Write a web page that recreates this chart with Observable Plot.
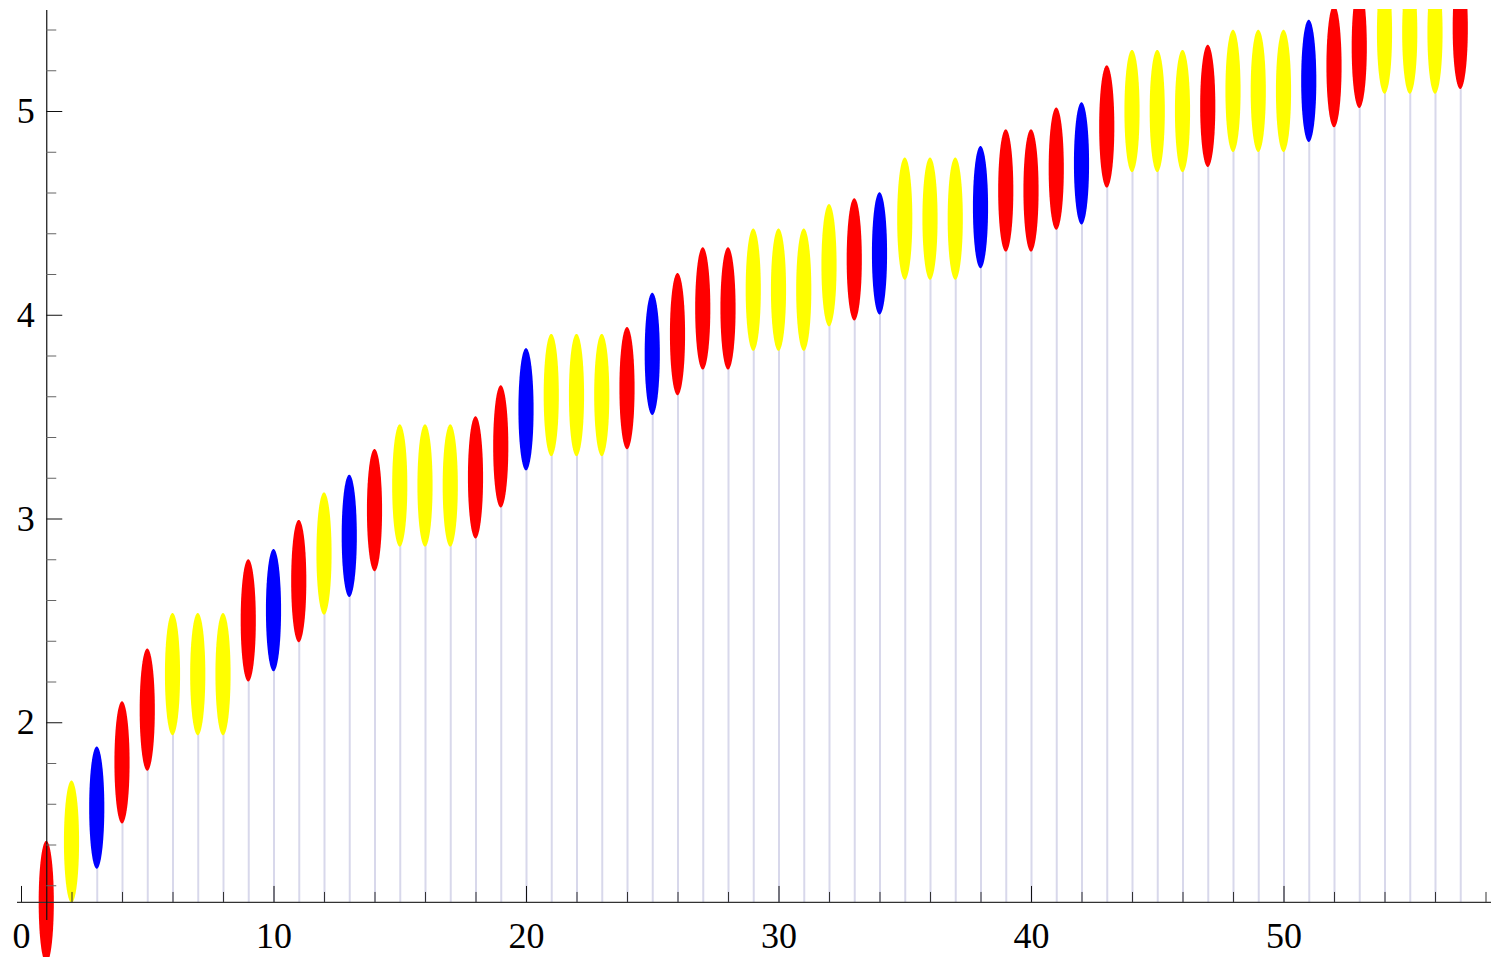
<!DOCTYPE html>
<html>
<head>
<meta charset="utf-8">
<script src="https://cdn.jsdelivr.net/npm/d3@7"></script>
<script src="https://cdn.jsdelivr.net/npm/@observablehq/plot@0.6"></script>
<style>
  html, body { margin: 0; padding: 0; background: #fff; }
  svg { display: block; }
</style>
</head>
<body>
<div id="chart"></div>
<script>
// ---- data ----
const positions = [1,2,3,4,5,6,7,8,9,10,11,12,13,14,15,16,17,18,19,20,21,22,23,24,25,26,27,28,29,30,31,32,33,34,35,36,37,38,39,40,41,42,43,44,45,46,47,48,49,50,51,52,53,54,55,56,57];
const values = [1.118,1.414,1.581,1.803,2.062,2.236,2.236,2.236,2.500,2.550,2.693,2.828,2.915,3.041,3.162,3.162,3.162,3.202,3.354,3.536,3.606,3.606,3.606,3.640,3.808,3.905,4.031,4.031,4.123,4.123,4.123,4.243,4.272,4.301,4.472,4.472,4.472,4.528,4.610,4.610,4.717,4.743,4.924,5.000,5.000,5.000,5.025,5.099,5.099,5.099,5.148,5.220,5.315,5.385,5.385,5.385,5.408];
const colors = ["red","yellow","blue","red","red","yellow","yellow","yellow","red","blue","red","yellow","blue","red","yellow","yellow","yellow","red","red","blue","yellow","yellow","yellow","red","blue","red","red","red","yellow","yellow","yellow","yellow","red","blue","yellow","yellow","yellow","blue","red","red","red","blue","red","yellow","yellow","yellow","red","yellow","yellow","yellow","blue","red","red","yellow","yellow","yellow","red"];
const diskRadius = 0.3;
const originX = 1;
const originY = 1.118;
const xTicksMajor = [0,10,20,30,40,50];
const xTickLabels = ["0","10","20","30","40","50"];
const xTicksMinor = [2,4,6,8,12,14,16,18,22,24,26,28,32,34,36,38,42,44,46,48,52,54,56,58];
const yTicksMajor = [2,3,4,5];
const yTickLabels = ["2","3","4","5"];
const yTicksMinor = [1.2,1.4,1.6,1.8,2.2,2.4,2.6,2.8,3.2,3.4,3.6,3.8,4.2,4.4,4.6,4.8,5.2,5.4];

// ---- layout ----
const W = 1491, H = 964;
const KX = 25.25, X0 = 21;      // px per x unit, pixel of x = 0
const KY = 203.75, Y5 = 111;    // px per y unit, pixel of y = 5
const xDomain = [-X0 / KX, (W - X0) / KX];
const yDomain = [5 - (H - Y5) / KY, 5 + Y5 / KY];
const clipTop = 5 + (Y5 - 9) / KY;
const clipBottom = 5 - (957 - Y5) / KY;

const points = positions.map((p, i) => ({p, v: values[i], c: colors[i]}));

// disks sampled in data coordinates
const disk = [];
const N = 80;
for (const d of points) {
  for (let k = 0; k <= N; k++) {
    const t = Math.PI * k / N;
    const h = diskRadius * Math.sin(t);
    disk.push({
      p: d.p,
      c: d.c,
      x: d.p - diskRadius * Math.cos(t),
      y1: Math.max(d.v - h, clipBottom),
      y2: Math.min(d.v + h, clipTop)
    });
  }
}

const font = {fontFamily: "'Liberation Serif', 'Times New Roman', serif", fontSize: 36, fill: "#000"};

const chart = Plot.plot({
  width: W,
  height: H,
  margin: 0,
  style: {background: "#fff", overflow: "visible"},
  x: {domain: xDomain, axis: null},
  y: {domain: yDomain, axis: null},
  color: {type: "identity"},
  marks: [
    Plot.ruleX(points, {x: "p", y1: originY, y2: "v", stroke: "#d8d8eb", strokeWidth: 2}),
    Plot.areaY(disk, {x: "x", y1: "y1", y2: "y2", z: "p", fill: "c", curve: "linear"}),
    // axes
    Plot.ruleY([originY], {x1: (17 - X0) / KX, x2: xDomain[1], stroke: "#333", strokeWidth: 1.2}),
    Plot.ruleX([originX], {y1: 5 - (920 - Y5) / KY, y2: 5 + (Y5 - 10) / KY, stroke: "#111", strokeWidth: 1.2}),
    Plot.ruleX(xTicksMajor, {y1: originY, y2: originY + 16 / KY, stroke: "#111", strokeWidth: 1}),
    Plot.ruleX(xTicksMinor, {y1: originY, y2: originY + 10 / KY, stroke: "#333", strokeWidth: 1}),
    Plot.ruleY(yTicksMajor, {x1: originX, x2: originX + 16 / KX, stroke: "#111", strokeWidth: 1}),
    Plot.ruleY(yTicksMinor, {x1: originX, x2: originX + 10 / KX, stroke: "#666", strokeWidth: 1}),
    Plot.text(xTicksMajor, {x: d => d, y: originY, text: (d, i) => xTickLabels[i], dy: 34, textAnchor: "middle", lineAnchor: "middle", ...font}),
    Plot.text(yTicksMajor, {x: originX, y: d => d, text: (d, i) => yTickLabels[i], dx: -12, textAnchor: "end", lineAnchor: "middle", ...font})
  ]
});
document.getElementById("chart").appendChild(chart);
</script>
</body>
</html>
